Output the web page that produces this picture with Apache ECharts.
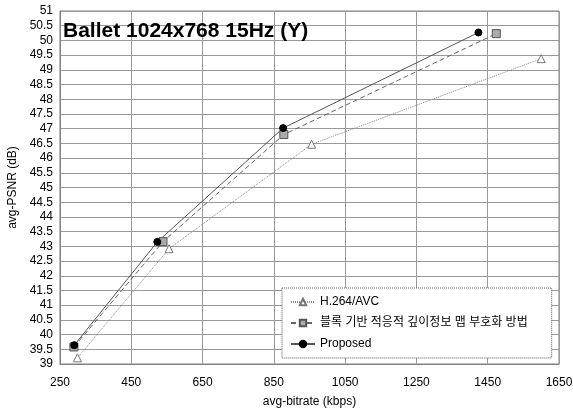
<!DOCTYPE html>
<html><head><meta charset="utf-8">
<script src="https://cdn.jsdelivr.net/npm/echarts@6/dist/echarts.min.js"></script>
<style>html,body{margin:0;padding:0;background:#fff}#c{width:573px;height:408px}</style>
</head><body><div id="c"></div>
<script>
const titleText = 'Ballet 1024x768 15Hz (Y)';
const xName = 'avg-bitrate (kbps)';
const yName = 'avg-PSNR (dB)';
const xTicks = [250, 450, 650, 850, 1050, 1250, 1450, 1650];
const seriesNames = ['H.264/AVC', '블록 기반 적응적 깊이정보 맵 부호화 방법', 'Proposed'];
const h264 = [[299, 39.21], [556, 42.92], [956, 46.47], [1600, 49.38]];
const blockBased = [[289, 39.58], [539, 43.16], [878, 46.80], [1474, 50.23]];
const proposed = [[290, 39.64], [523, 43.15], [876, 47.02], [1424, 50.27]];

const FONT = '"Liberation Sans", Arial, "Noto Sans CJK KR", sans-serif';
const chart = echarts.init(document.getElementById('c'), null, {renderer: 'canvas'});
chart.setOption({
  animation: false,
  backgroundColor: '#fff',
  textStyle: {fontFamily: FONT},
  title: {
    text: titleText, left: 58, top: 16,
    textStyle: {fontFamily: FONT, fontSize: 21, fontWeight: 'bold', color: '#000'}
  },
  grid: {left: 60, right: 14, top: 11, bottom: 44, show: true, borderColor: '#808080', borderWidth: 1,
         outerBoundsMode: 'none', containLabel: false},
  legend: {
    orient: 'vertical', left: 282, top: 288,
    data: seriesNames,
    backgroundColor: '#fff', borderColor: '#555', borderWidth: 1, borderType: 'dotted', borderRadius: 0,
    padding: [8, 24, 8, 8], itemGap: 9, itemWidth: 24, itemHeight: 8,
    textStyle: {fontFamily: FONT, fontSize: 12, color: '#000'}
  },
  xAxis: {
    type: 'value', min: 250, max: 1650,
    name: xName, nameLocation: 'middle', nameGap: 32,
    nameTextStyle: {fontFamily: FONT, fontSize: 12, color: '#000'},
    axisLine: {show: true, lineStyle: {color: '#808080'}},
    axisTick: {show: false, customValues: xTicks},
    axisLabel: {customValues: xTicks, formatter: v => String(v), fontFamily: FONT, fontSize: 12, color: '#000', margin: 13},
    splitLine: {show: true, lineStyle: {color: '#999', width: 1}}
  },
  yAxis: {
    type: 'value', min: 39, max: 51, interval: 0.5,
    name: yName, nameLocation: 'middle', nameGap: 33,
    nameTextStyle: {fontFamily: FONT, fontSize: 12, color: '#000'},
    axisLine: {show: true, lineStyle: {color: '#808080'}},
    axisTick: {show: false},
    axisLabel: {fontFamily: FONT, fontSize: 12, color: '#000', margin: 7},
    splitLine: {show: true, lineStyle: {color: '#999', width: 1}}
  },
  series: [
    {name: seriesNames[0], type: 'line', data: h264, symbol: 'triangle', symbolSize: 8,
     lineStyle: {color: '#888', width: 1, type: [1, 1]},
     itemStyle: {color: '#fff', borderColor: '#777', borderWidth: 1}},
    {name: seriesNames[1], type: 'line', data: blockBased, symbol: 'rect', symbolSize: 8,
     lineStyle: {color: '#666', width: 1, type: [5, 3]},
     itemStyle: {color: '#aaa', borderColor: '#555', borderWidth: 1}},
    {name: seriesNames[2], type: 'line', data: proposed, symbol: 'circle', symbolSize: 7,
     lineStyle: {color: '#555', width: 1, type: 'solid'},
     itemStyle: {color: '#000', borderColor: '#000', borderWidth: 1}}
  ]
});
</script></body></html>
